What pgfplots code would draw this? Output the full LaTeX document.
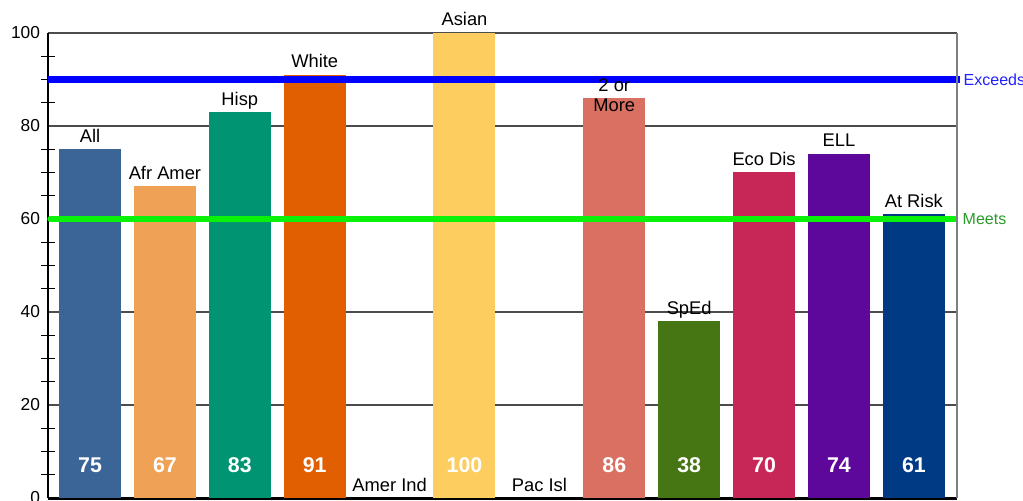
\documentclass[border=0pt]{standalone}
\usepackage{fontspec}
\setmainfont{Liberation Sans}
\usepackage{pgfplots}
\pgfplotsset{compat=1.18}

\definecolor{cAll}{HTML}{3B6596}
\definecolor{cAfr}{HTML}{EFA255}
\definecolor{cHisp}{HTML}{009472}
\definecolor{cWhite}{HTML}{E15F00}
\definecolor{cAsian}{HTML}{FDCD60}
\definecolor{cTwo}{HTML}{DA7062}
\definecolor{cSpEd}{HTML}{467614}
\definecolor{cEco}{HTML}{C72757}
\definecolor{cELL}{HTML}{5E089B}
\definecolor{cRisk}{HTML}{003A85}
\definecolor{exLine}{HTML}{0000FF}
\definecolor{exText}{HTML}{2222FF}
\definecolor{mtLine}{HTML}{0AF20A}
\definecolor{mtText}{HTML}{2A9A2A}

\tikzset{catlabel/.style={anchor=base, text=black, align=center,
    font=\fontsize{13.75}{15}\selectfont}}

\begin{document}
\begin{tikzpicture}
\begin{axis}[
  scale only axis, width=681.75pt, height=348.75pt,
  xmin=-0.561, xmax=11.576, ymin=0, ymax=100,
  clip=false,
  axis x line*=bottom, axis y line*=left,
  axis line style={-},
  x axis line style={line width=2.25pt, black},
  y axis line style={line width=1.1pt, black},
  xtick=\empty,
  ytick={0,20,...,100},
  minor ytick={5,10,15,25,30,35,45,50,55,65,70,75,85,90,95},
  ymajorgrids, major grid style={black!70, line width=0.8pt},
  major tick length=0pt, minor tick length=9.75pt, tick align=center,
  tick style={black, line width=0.8pt},
  yticklabel style={font=\fontsize{13}{15}\selectfont, xshift=-2.5pt},
  /pgf/number format/assume math mode=true,
  bar width=46.5pt,
]
\coordinate (SW) at (rel axis cs:0,0);
\coordinate (NE) at (rel axis cs:1,1);

\addplot[ybar, bar shift=0pt, fill=cAll, draw=none] coordinates {(0,75)};
\addplot[ybar, bar shift=0pt, fill=cAfr, draw=none] coordinates {(1,67)};
\addplot[ybar, bar shift=0pt, fill=cHisp, draw=none] coordinates {(2,83)};
\addplot[ybar, bar shift=0pt, fill=cWhite, draw=none] coordinates {(3,91)};
\addplot[ybar, bar shift=0pt, fill=cAsian, draw=none] coordinates {(5,100)};
\addplot[ybar, bar shift=0pt, fill=cTwo, draw=none] coordinates {(7,86)};
\addplot[ybar, bar shift=0pt, fill=cSpEd, draw=none] coordinates {(8,38)};
\addplot[ybar, bar shift=0pt, fill=cEco, draw=none] coordinates {(9,70)};
\addplot[ybar, bar shift=0pt, fill=cELL, draw=none] coordinates {(10,74)};
\addplot[ybar, bar shift=0pt, fill=cRisk, draw=none] coordinates {(11,61)};

% group names above the bars
\addplot[draw=none, mark=none, nodes near coords, point meta=explicit symbolic,
  nodes near coords align={anchor=base},
  every node near coord/.append style={catlabel, yshift=5.25pt}]
  coordinates {
    (0,75) [All]
    (1,67) [Afr Amer]
    (2,83) [Hisp]
    (3,91) [White]
    (4,0) [Amer Ind]
    (5,100) [Asian]
    (6,0) [Pac Isl]
    (8,38) [SpEd]
    (9,70) [Eco Dis]
    (10,74) [ELL]
    (11,61) [At Risk]
  };
% two-line name: first line sits above the bar, second runs into it
\addplot[draw=none, mark=none, nodes near coords, point meta=explicit symbolic,
  nodes near coords align={anchor=base},
  every node near coord/.append style={catlabel, yshift=-10pt}]
  coordinates {(7,86) [{2 or\\More}]};

% values at the foot of the bars
\addplot[draw=none, mark=none, nodes near coords, point meta=explicit symbolic,
  every node near coord/.append style={anchor=base, yshift=19.5pt, text=white,
    font=\bfseries\fontsize{16}{18}\selectfont}]
  coordinates {
    (0,0) [75]
    (1,0) [67]
    (2,0) [83]
    (3,0) [91]
    (5,0) [100]
    (7,0) [86]
    (8,0) [38]
    (9,0) [70]
    (10,0) [74]
    (11,0) [61]
  };

\addplot[color=exLine, line width=5.75pt] coordinates {(-0.561,90) (11.616,90)};
\addplot[color=mtLine, line width=4.5pt, line cap=round] coordinates {(-0.53,60) (11.55,60)};

\draw[gray, line width=1.5pt] (rel axis cs:1,0) -- (rel axis cs:1,1);
\node[anchor=west, text=exText, font=\fontsize{12}{14}\selectfont, xshift=1.5pt] at (axis cs:11.576,90) {Exceeds};
\node[anchor=west, text=mtText, font=\fontsize{12}{14}\selectfont, xshift=0.75pt] at (axis cs:11.576,60) {Meets};
\end{axis}
\pgfresetboundingbox
\useasboundingbox ([shift={(-36pt,-1.5pt)}]SW) rectangle ([shift={(49.5pt,24.75pt)}]NE);
\end{tikzpicture}
\end{document}
